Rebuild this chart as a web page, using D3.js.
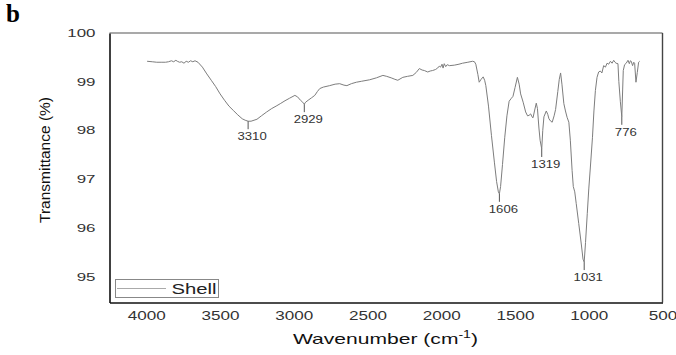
<!DOCTYPE html>
<html><head><meta charset="utf-8">
<script src="https://cdn.jsdelivr.net/npm/d3@7"></script>
<style>
html,body{margin:0;padding:0;background:#fff;}
svg{display:block;}
text{font-family:"Liberation Sans",Arial,sans-serif;}
</style></head>
<body>
<svg id="chart" width="676" height="355"></svg>
<script>
// ---- data ----
const wavenumber = [3995,3960,3930,3900,3870,3850,3830,3815,3800,3790,3775,3760,3745,3730,3715,3700,3685,3670,3650,3620,3590,3560,3530,3500,3470,3440,3410,3380,3350,3330,3310,3290,3270,3250,3220,3184,3150,3120,3092,3060,3030,2993,2975,2955,2940,2929,2920,2903,2880,2858,2840,2824,2800,2757,2720,2689,2660,2640,2610,2576,2540,2486,2440,2396,2370,2340,2315,2295,2261,2230,2193,2170,2149,2130,2115,2092,2075,2059,2040,2025,2014,2005,1995,1988,1980,1970,1960,1945,1912,1880,1856,1820,1788,1775,1766,1752,1743,1730,1716,1706,1698,1680,1660,1640,1625,1613,1606,1598,1585,1570,1555,1540,1525,1514,1500,1484,1472,1462,1445,1428,1415,1405,1394,1385,1378,1368,1356,1348,1338,1330,1319,1312,1304,1288,1278,1270,1258,1248,1235,1225,1210,1200,1191,1182,1169,1158,1147,1135,1125,1113,1105,1095,1085,1068,1050,1039,1031,1022,1010,1000,989,975,965,955,944,933,922,911,899,887,876,865,853,842,831,822,815,802,796,786,776,770,766,757,746,734,725,718,712,703,695,689,680,671,662,655];
const transmittance = [99.42,99.41,99.40,99.40,99.40,99.41,99.43,99.41,99.44,99.42,99.40,99.41,99.38,99.42,99.40,99.43,99.41,99.43,99.40,99.30,99.16,99.03,98.90,98.75,98.62,98.50,98.41,98.32,98.24,98.21,98.19,98.19,98.21,98.23,98.30,98.38,98.45,98.50,98.55,98.61,98.66,98.72,98.69,98.62,98.58,98.54,98.58,98.62,98.67,98.72,98.80,98.86,98.89,98.92,98.95,98.96,98.93,98.92,98.96,98.99,99.01,99.04,99.08,99.13,99.11,99.08,99.05,99.03,99.09,99.11,99.13,99.19,99.27,99.24,99.23,99.20,99.22,99.23,99.25,99.28,99.32,99.30,99.36,99.28,99.37,99.31,99.35,99.33,99.34,99.36,99.38,99.40,99.42,99.41,99.36,99.15,98.99,99.05,99.10,99.03,98.92,98.50,97.90,97.35,96.95,96.74,96.70,96.85,97.30,97.85,98.30,98.60,98.66,98.70,98.88,99.09,98.95,98.75,98.58,98.38,98.30,98.31,98.34,98.28,98.26,98.40,98.56,98.45,98.05,97.80,97.62,98.00,98.28,98.40,98.33,98.24,98.19,98.17,98.30,98.43,98.80,99.05,99.18,98.95,98.55,98.40,98.27,98.17,97.80,97.18,96.85,96.74,96.50,96.09,95.65,95.36,95.30,95.70,96.30,96.80,97.25,97.85,98.40,98.82,99.09,99.20,99.22,99.18,99.33,99.30,99.38,99.36,99.42,99.38,99.44,99.40,99.38,99.37,99.00,98.60,98.28,98.85,99.23,99.35,99.38,99.44,99.37,99.43,99.42,99.33,99.40,99.38,98.99,99.19,99.40,99.42];
const xTicks = [4000,3500,3000,2500,2000,1500,1000,500];
const yTicks = [95,96,97,98,99,100];
const peakWave = [3310,2929,1606,1319,1031,776];
const peakLabel = ["3310","2929","1606","1319","1031","776"];
const seriesName = "Shell";

// ---- layout ----
const L = 109.5, R = 662.5, T = 33, B = 302.5;
const svg = d3.select("#chart");
const x = d3.scaleLinear().domain([4250, 500]).range([L, R]);
const y = d3.scaleLinear().domain([94.47, 100]).range([B, T]);

// panel letter
svg.append("text").attr("x", 6).attr("y", 22)
  .style("font-family", "'Liberation Serif','Times New Roman',serif")
  .style("font-weight", "bold").style("font-size", "25px").text("b");

// spectrum
const pts = wavenumber.map((w, i) => [w, transmittance[i]]);
svg.append("path").datum(pts)
  .attr("fill", "none").attr("stroke", "#7d7d7d").attr("stroke-width", 1)
  .attr("stroke-linejoin", "round")
  .attr("d", d3.line().x(d => x(d[0])).y(d => y(d[1])));

// frame
svg.append("line").attr("x1", L).attr("x2", R).attr("y1", T).attr("y2", T).attr("stroke", "#555").attr("stroke-width", 1.2);
svg.append("line").attr("x1", R).attr("x2", R).attr("y1", T).attr("y2", B).attr("stroke", "#444").attr("stroke-width", 1.4);

// axes
const gx = svg.append("g").attr("transform", `translate(0,${B})`)
  .call(d3.axisBottom(x).tickValues(xTicks).tickSize(0).tickPadding(9).tickFormat(d3.format("d")));
gx.select(".domain").attr("stroke", "#111").attr("stroke-width", 1.6);
gx.selectAll("text").style("font-size", "12px").attr("fill", "#333")
  .attr("textLength", d => String(d).length * 9.5).attr("lengthAdjust", "spacingAndGlyphs");

const gy = svg.append("g").attr("transform", `translate(${L},0)`)
  .call(d3.axisLeft(y).tickValues(yTicks).tickSize(0).tickPadding(14).tickFormat(d3.format("d")));
gy.select(".domain").attr("stroke", "#111").attr("stroke-width", 1.6);
gy.selectAll("text").style("font-size", "11px").attr("fill", "#333")
  .attr("textLength", d => String(d).length * 9.4).attr("lengthAdjust", "spacingAndGlyphs");

// axis titles
const xt = svg.append("text").attr("x", (293 + 478) / 2).attr("y", 344)
  .attr("text-anchor", "middle").style("font-size", "15px").attr("fill", "#111")
  .attr("textLength", 185).attr("lengthAdjust", "spacingAndGlyphs");
xt.append("tspan").text("Wavenumber (cm");
xt.append("tspan").attr("dy", -6).style("font-size", "10px").text("-1");
xt.append("tspan").attr("dy", 6).text(")");

svg.append("text").attr("transform", "translate(50,160) rotate(-90)")
  .attr("text-anchor", "middle").style("font-size", "14px").attr("fill", "#111")
  .attr("textLength", 126).attr("lengthAdjust", "spacingAndGlyphs")
  .text("Transmittance (%)");

// peak annotations
const interp = w => {
  for (let i = 0; i < wavenumber.length - 1; i++) {
    const a = wavenumber[i], b = wavenumber[i + 1];
    if (w <= a && w >= b) {
      const t = (a - w) / (a - b);
      return transmittance[i] + t * (transmittance[i + 1] - transmittance[i]);
    }
  }
  return transmittance[transmittance.length - 1];
};
peakWave.forEach((w, i) => {
  const px = x(w), py = y(interp(w));
  svg.append("line").attr("x1", px).attr("x2", px).attr("y1", py).attr("y2", py + 8)
    .attr("stroke", "#555").attr("stroke-width", 1);
  svg.append("text").attr("x", px + 4).attr("y", py + 19)
    .attr("text-anchor", "middle").style("font-size", "10px").attr("fill", "#333")
    .attr("textLength", peakLabel[i].length * 7.3).attr("lengthAdjust", "spacingAndGlyphs")
    .text(peakLabel[i]);
});

// legend
const lg = svg.append("g");
lg.append("rect").attr("x", 115.5).attr("y", 279.5).attr("width", 103).attr("height", 18)
  .attr("fill", "#fff").attr("stroke", "#888").attr("stroke-width", 1);
lg.append("line").attr("x1", 117).attr("x2", 166).attr("y1", 288.5).attr("y2", 288.5)
  .attr("stroke", "#aaa").attr("stroke-width", 1.2);
lg.append("text").attr("x", 171.5).attr("y", 293.5).style("font-size", "14px").attr("fill", "#222")
  .attr("textLength", 45).attr("lengthAdjust", "spacingAndGlyphs").text(seriesName);
</script>
</body></html>
